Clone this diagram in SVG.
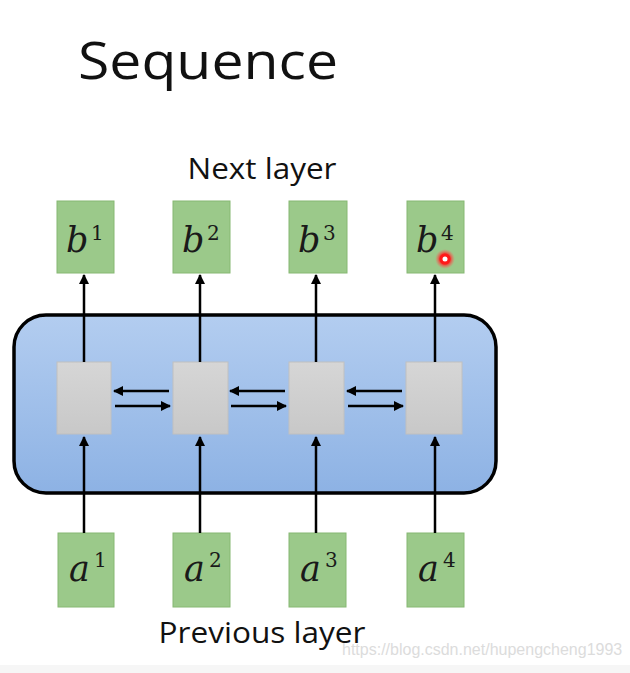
<svg xmlns="http://www.w3.org/2000/svg" width="630" height="673" viewBox="0 0 630 673">
<defs>
<linearGradient id="blue" x1="0" y1="0" x2="0" y2="1">
<stop offset="0" stop-color="#b3cdf0"/>
<stop offset="1" stop-color="#8db2e4"/>
</linearGradient>
<linearGradient id="grey" x1="0" y1="0" x2="0" y2="1">
<stop offset="0" stop-color="#d6d6d6"/>
<stop offset="1" stop-color="#c8c8c8"/>
</linearGradient>
<radialGradient id="glow">
<stop offset="0.5" stop-color="#ff2020" stop-opacity="0.9"/>
<stop offset="1" stop-color="#ff6060" stop-opacity="0"/>
</radialGradient>
<marker id="ah" viewBox="0 0 10 10" refX="9" refY="5" markerWidth="4" markerHeight="4" orient="auto" markerUnits="strokeWidth">
<path d="M0,0 L10,5 L0,10 z" fill="#000"/>
</marker>
</defs>
<style>
.green{fill:#9bc98a;stroke:#86b872;stroke-width:1}
.cell{fill:url(#grey);stroke:#c0c0c0;stroke-width:1}
.lab{font-family:"DejaVu Serif","Liberation Serif",serif;font-style:italic;font-size:35px;fill:#1a1a1a}
.sup{font-family:"DejaVu Serif","Liberation Serif",serif;font-size:20px;fill:#1a1a1a}
.cap{font-family:"Open Sans","Noto Sans",sans-serif;fill:#111}
.conn line{stroke:#000;stroke-width:2.5;marker-end:url(#ah)}
</style>
<rect width="630" height="673" fill="#fff"/>
<rect x="0" y="665" width="630" height="8" fill="#f6f6f6"/>
<text class="cap" x="78" y="79" font-size="52" textLength="260" lengthAdjust="spacingAndGlyphs">Sequence</text>
<text class="cap" x="262" y="179" font-size="30" text-anchor="middle" textLength="149" lengthAdjust="spacingAndGlyphs">Next layer</text>
<text class="cap" x="262" y="643" font-size="30" text-anchor="middle" textLength="207" lengthAdjust="spacingAndGlyphs">Previous layer</text>

<g id="layer"><rect x="14" y="315" width="482" height="178" rx="32" fill="url(#blue)" stroke="#000" stroke-width="3.5"/></g>

<g id="h1"><rect class="cell" x="57" y="362" width="54" height="72"/></g>
<g id="h2"><rect class="cell" x="173" y="362" width="55" height="72"/></g>
<g id="h3"><rect class="cell" x="289" y="362" width="55" height="72"/></g>
<g id="h4"><rect class="cell" x="406" y="362" width="56" height="72"/></g>

<g id="b1"><rect class="green" x="57" y="201" width="57" height="72"/><text class="lab" x="66" y="252">b</text><text class="sup" x="91" y="240">1</text></g>
<g id="b2"><rect class="green" x="173" y="201" width="57" height="72"/><text class="lab" x="182" y="252">b</text><text class="sup" x="207" y="240">2</text></g>
<g id="b3"><rect class="green" x="289" y="201" width="58" height="72"/><text class="lab" x="298" y="252">b</text><text class="sup" x="323" y="240">3</text></g>
<g id="b4"><rect class="green" x="407" y="201" width="57" height="72"/><text class="lab" x="416" y="252">b</text><text class="sup" x="441" y="240">4</text></g>

<g id="a1"><rect class="green" x="58" y="533" width="56" height="74"/><text class="lab" x="69" y="581">a</text><text class="sup" x="94" y="567">1</text></g>
<g id="a2"><rect class="green" x="173" y="533" width="57" height="74"/><text class="lab" x="184" y="581">a</text><text class="sup" x="209" y="567">2</text></g>
<g id="a3"><rect class="green" x="289" y="533" width="57" height="74"/><text class="lab" x="300" y="581">a</text><text class="sup" x="325" y="567">3</text></g>
<g id="a4"><rect class="green" x="407" y="533" width="57" height="74"/><text class="lab" x="418" y="581">a</text><text class="sup" x="443" y="567">4</text></g>

<g id="connectors" class="conn">
<line x1="84" y1="362" x2="84" y2="275"/>
<line x1="200" y1="362" x2="200" y2="275"/>
<line x1="316" y1="362" x2="316" y2="275"/>
<line x1="435" y1="362" x2="435" y2="275"/>
<line x1="84" y1="533" x2="84" y2="437"/>
<line x1="200" y1="533" x2="200" y2="437"/>
<line x1="316" y1="533" x2="316" y2="437"/>
<line x1="435" y1="533" x2="435" y2="437"/>
<line x1="169" y1="391" x2="114" y2="391"/>
<line x1="115" y1="406" x2="170" y2="406"/>
<line x1="285" y1="391" x2="230" y2="391"/>
<line x1="231" y1="406" x2="286" y2="406"/>
<line x1="402" y1="391" x2="347" y2="391"/>
<line x1="348" y1="406" x2="403" y2="406"/>
</g>

<g id="pointer"><circle cx="445" cy="259" r="10" fill="url(#glow)"/><circle cx="445" cy="259" r="5.5" fill="#ff1a1a"/><circle cx="445" cy="259" r="2.5" fill="#fff"/></g>

<text x="342" y="655" font-family="Liberation Sans, Arial, sans-serif" font-size="16" fill="#dcdcdc">https://blog.csdn.net/hupengcheng1993</text>
</svg>
